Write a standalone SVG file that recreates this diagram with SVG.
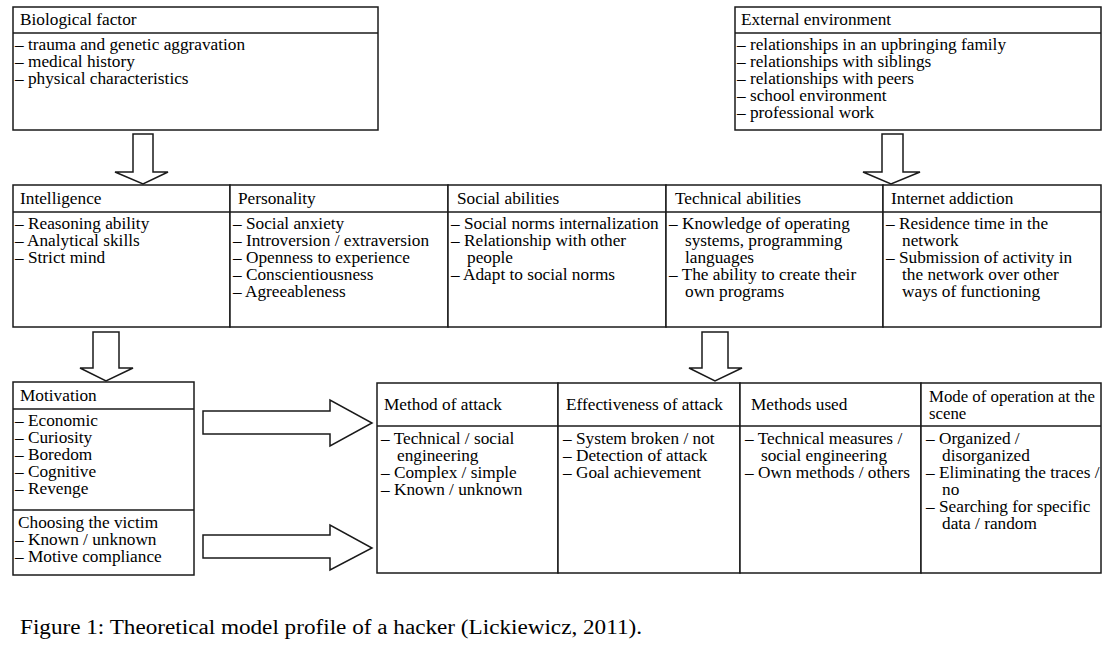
<svg xmlns="http://www.w3.org/2000/svg" width="1110" height="652" viewBox="0 0 1110 652">
<style>
.box{fill:#fff;stroke:#1a1a1a;stroke-width:1.5}
.ln{stroke:#1a1a1a;stroke-width:1.5}
.t{font-family:"Liberation Serif","Times New Roman",serif;font-size:16px;fill:#000}
.arr{fill:#fff;stroke:#1a1a1a;stroke-width:1.5;stroke-linejoin:miter}
.cap{font-family:"Liberation Serif","Times New Roman",serif;font-size:20px;fill:#000}
</style>
<rect width="1110" height="652" fill="#fff"/>

<g id="biological">
<rect class="box" x="13" y="7" width="365" height="123"/>
<line class="ln" x1="13" y1="33" x2="378" y2="33"/>
<text class="t" transform="matrix(1.08 0 0 1 20 25)">Biological factor</text>
<text class="t" transform="matrix(1.08 0 0 1 15 50)">– trauma and genetic aggravation</text>
<text class="t" transform="matrix(1.08 0 0 1 15 67)">– medical history</text>
<text class="t" transform="matrix(1.08 0 0 1 15 84)">– physical characteristics</text>
</g>

<g id="external">
<rect class="box" x="735" y="7" width="366" height="123"/>
<line class="ln" x1="735" y1="33" x2="1101" y2="33"/>
<text class="t" transform="matrix(1.08 0 0 1 741 25)">External environment</text>
<text class="t" transform="matrix(1.08 0 0 1 737 50)">– relationships in an upbringing family</text>
<text class="t" transform="matrix(1.08 0 0 1 737 67)">– relationships with siblings</text>
<text class="t" transform="matrix(1.08 0 0 1 737 84)">– relationships with peers</text>
<text class="t" transform="matrix(1.08 0 0 1 737 101)">– school environment</text>
<text class="t" transform="matrix(1.08 0 0 1 737 118)">– professional work</text>
</g>

<g id="intelligence">
<rect class="box" x="13" y="185" width="217" height="142"/>
<line class="ln" x1="13" y1="212" x2="230" y2="212"/>
<text class="t" transform="matrix(1.08 0 0 1 20 204)">Intelligence</text>
<text class="t" transform="matrix(1.08 0 0 1 15 229)">– Reasoning ability</text>
<text class="t" transform="matrix(1.08 0 0 1 15 246)">– Analytical skills</text>
<text class="t" transform="matrix(1.08 0 0 1 15 263)">– Strict mind</text>
</g>

<g id="personality">
<rect class="box" x="230" y="185" width="218" height="142"/>
<line class="ln" x1="230" y1="212" x2="448" y2="212"/>
<text class="t" transform="matrix(1.08 0 0 1 238 204)">Personality</text>
<text class="t" transform="matrix(1.08 0 0 1 233 229)">– Social anxiety</text>
<text class="t" transform="matrix(1.08 0 0 1 233 246)">– Introversion / extraversion</text>
<text class="t" transform="matrix(1.08 0 0 1 233 263)">– Openness to experience</text>
<text class="t" transform="matrix(1.08 0 0 1 233 280)">– Conscientiousness</text>
<text class="t" transform="matrix(1.08 0 0 1 233 297)">– Agreeableness</text>
</g>

<g id="social">
<rect class="box" x="448" y="185" width="218" height="142"/>
<line class="ln" x1="448" y1="212" x2="666" y2="212"/>
<text class="t" transform="matrix(1.08 0 0 1 457 204)">Social abilities</text>
<text class="t" transform="matrix(1.08 0 0 1 451 229)">– Social norms internalization</text>
<text class="t" transform="matrix(1.08 0 0 1 451 246)">– Relationship with other</text>
<text class="t" transform="matrix(1.08 0 0 1 467 263)">people</text>
<text class="t" transform="matrix(1.08 0 0 1 451 280)">– Adapt to social norms</text>
</g>

<g id="technical">
<rect class="box" x="666" y="185" width="217" height="142"/>
<line class="ln" x1="666" y1="212" x2="883" y2="212"/>
<text class="t" transform="matrix(1.08 0 0 1 675 204)">Technical abilities</text>
<text class="t" transform="matrix(1.08 0 0 1 669 229)">– Knowledge of operating</text>
<text class="t" transform="matrix(1.08 0 0 1 685 246)">systems, programming</text>
<text class="t" transform="matrix(1.08 0 0 1 685 263)">languages</text>
<text class="t" transform="matrix(1.08 0 0 1 669 280)">– The ability to create their</text>
<text class="t" transform="matrix(1.08 0 0 1 685 297)">own programs</text>
</g>

<g id="internet">
<rect class="box" x="883" y="185" width="218" height="142"/>
<line class="ln" x1="883" y1="212" x2="1101" y2="212"/>
<text class="t" transform="matrix(1.08 0 0 1 891 204)">Internet addiction</text>
<text class="t" transform="matrix(1.08 0 0 1 886 229)">– Residence time in the</text>
<text class="t" transform="matrix(1.08 0 0 1 902 246)">network</text>
<text class="t" transform="matrix(1.08 0 0 1 886 263)">– Submission of activity in</text>
<text class="t" transform="matrix(1.08 0 0 1 902 280)">the network over other</text>
<text class="t" transform="matrix(1.08 0 0 1 902 297)">ways of functioning</text>
</g>

<g id="motivation">
<rect class="box" x="13" y="382" width="181" height="193"/>
<line class="ln" x1="13" y1="409" x2="194" y2="409"/>
<line class="ln" x1="13" y1="510" x2="194" y2="510"/>
<text class="t" transform="matrix(1.08 0 0 1 20 401)">Motivation</text>
<text class="t" transform="matrix(1.08 0 0 1 15 426)">– Economic</text>
<text class="t" transform="matrix(1.08 0 0 1 15 443)">– Curiosity</text>
<text class="t" transform="matrix(1.08 0 0 1 15 460)">– Boredom</text>
<text class="t" transform="matrix(1.08 0 0 1 15 477)">– Cognitive</text>
<text class="t" transform="matrix(1.08 0 0 1 15 494)">– Revenge</text>
<text class="t" transform="matrix(1.08 0 0 1 18 528)">Choosing the victim</text>
<text class="t" transform="matrix(1.08 0 0 1 15 545)">– Known / unknown</text>
<text class="t" transform="matrix(1.08 0 0 1 15 562)">– Motive compliance</text>
</g>

<g id="method-of-attack">
<rect class="box" x="377" y="383" width="181" height="190"/>
<line class="ln" x1="377" y1="426" x2="558" y2="426"/>
<text class="t" transform="matrix(1.08 0 0 1 384 410)">Method of attack</text>
<text class="t" transform="matrix(1.08 0 0 1 381 444)">– Technical / social</text>
<text class="t" transform="matrix(1.08 0 0 1 397 461)">engineering</text>
<text class="t" transform="matrix(1.08 0 0 1 381 478)">– Complex / simple</text>
<text class="t" transform="matrix(1.08 0 0 1 381 495)">– Known / unknown</text>
</g>

<g id="effectiveness">
<rect class="box" x="558" y="383" width="182" height="190"/>
<line class="ln" x1="558" y1="426" x2="740" y2="426"/>
<text class="t" transform="matrix(1.08 0 0 1 566 410)">Effectiveness of attack</text>
<text class="t" transform="matrix(1.08 0 0 1 563 444)">– System broken / not</text>
<text class="t" transform="matrix(1.08 0 0 1 563 461)">– Detection of attack</text>
<text class="t" transform="matrix(1.08 0 0 1 563 478)">– Goal achievement</text>
</g>

<g id="methods-used">
<rect class="box" x="740" y="383" width="181" height="190"/>
<line class="ln" x1="740" y1="426" x2="921" y2="426"/>
<text class="t" transform="matrix(1.08 0 0 1 751 410)">Methods used</text>
<text class="t" transform="matrix(1.08 0 0 1 745 444)">– Technical measures /</text>
<text class="t" transform="matrix(1.08 0 0 1 761 461)">social engineering</text>
<text class="t" transform="matrix(1.08 0 0 1 745 478)">– Own methods / others</text>
</g>

<g id="mode-of-operation">
<rect class="box" x="921" y="383" width="180" height="190"/>
<line class="ln" x1="921" y1="426" x2="1101" y2="426"/>
<text class="t" transform="matrix(1.05 0 0 1 929 402)">Mode of operation at the</text>
<text class="t" transform="matrix(1.05 0 0 1 929 419)">scene</text>
<text class="t" transform="matrix(1.08 0 0 1 926 444)">– Organized /</text>
<text class="t" transform="matrix(1.08 0 0 1 942 461)">disorganized</text>
<text class="t" transform="matrix(1.08 0 0 1 926 478)">– Eliminating the traces /</text>
<text class="t" transform="matrix(1.08 0 0 1 942 495)">no</text>
<text class="t" transform="matrix(1.08 0 0 1 926 512)">– Searching for specific</text>
<text class="t" transform="matrix(1.08 0 0 1 942 529)">data / random</text>
</g>

<g id="connectors">
<polygon class="arr" points="133,134 153,134 153,172 168,172 143,184 115,172 133,172"/>
<polygon class="arr" points="882,134 903,134 903,172 920,172 891,184 863,172 882,172"/>
<polygon class="arr" points="93,332 119,332 119,368 133,368 106,381 80,368 93,368"/>
<polygon class="arr" points="702,332 728,332 728,368 742,368 715,381 689,368 702,368"/>
<polygon class="arr" points="203,411 330,411 330,400 372,423 330,446 330,434 203,434"/>
<polygon class="arr" points="203,535 330,535 330,525 372,548 330,570 330,558 203,558"/>
</g>

<text class="cap" x="20" y="634" textLength="622" lengthAdjust="spacingAndGlyphs">Figure 1: Theoretical model profile of a hacker (Lickiewicz, 2011).</text>
</svg>
